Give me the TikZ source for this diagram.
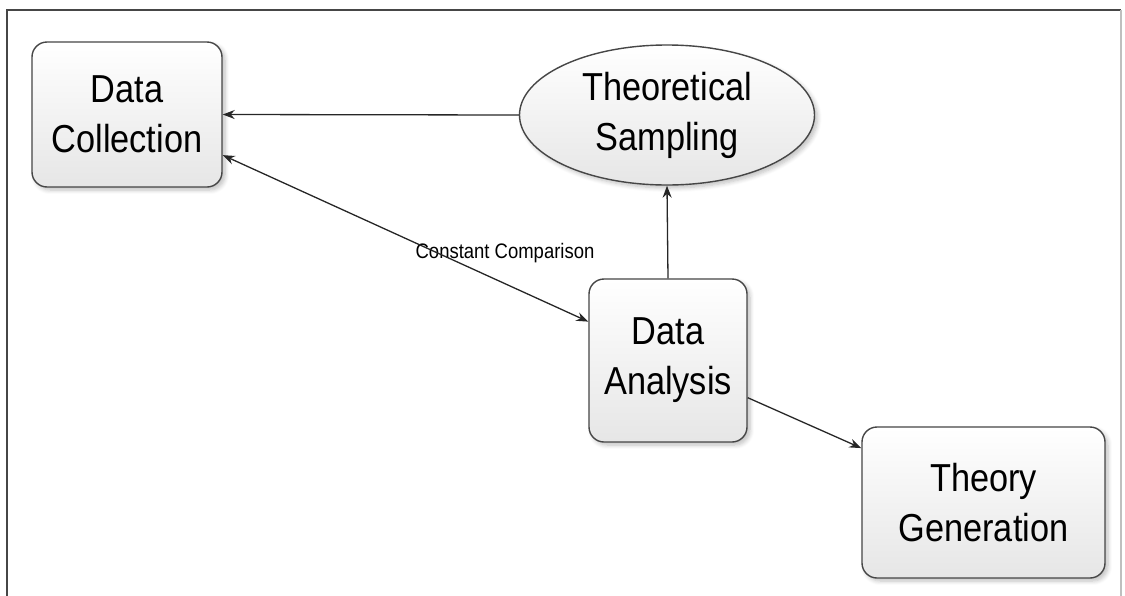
\documentclass[tikz,border=0pt]{standalone}
\usepackage{fontspec}
\setmainfont{Liberation Sans}[FakeStretch=0.88]
\usetikzlibrary{shapes.geometric,arrows.meta,shadows.blur}
\definecolor{rim}{RGB}{70,70,70}
\definecolor{shade}{RGB}{230,230,230}
\begin{document}
\begin{tikzpicture}[x=0.5pt,y=-0.5pt,
  box/.style={draw=rim,line width=0.7pt,rounded corners=7.5pt,align=center,
    top color=white,bottom color=shade,font=\fontsize{19.5}{25}\selectfont,
    blur shadow={shadow xshift=1.5pt,shadow yshift=-1.5pt,shadow opacity=25,shadow blur steps=6}},
  oval/.style={box,ellipse,rounded corners=0pt,inner sep=0pt},
  arr/.style={-{Stealth[length=6pt,width=4.5pt]},line width=0.65pt,draw=black!85}]
\useasboundingbox (0,0) rectangle (1125,595);
\draw [rim,line width=0.7pt] (7,600) -- (7,10) -- (1121,10);
\draw [black!25,line width=0.6pt] (1121,10) -- (1121,600);

\node [box,minimum width=95pt,minimum height=72.5pt] (coll) at (127,114.5) {Data\\Collection};
\node [oval,minimum width=147.5pt,minimum height=70pt] (samp) at (667,115) {Theoretical\\Sampling};
\node [box,minimum width=79pt,minimum height=81.5pt] (anal) at (668,360.5) {Data\\Analysis};
\node [box,minimum width=121.5pt,minimum height=75.5pt] (theo) at (983.5,502.5) {Theory\\Generation};
\node [font=\fontsize{10.5}{12}\selectfont] (comp) at (505,253) {Constant Comparison};

\draw [arr] (samp.west) -- (coll.east);
\draw [arr] (anal.north) -- (samp.south);
\draw [arr,{Stealth[length=6pt,width=4.5pt]}-{Stealth[length=6pt,width=4.5pt]}] (coll.-23) -- (anal.154);
\draw [arr] (anal.-25) -- (theo.156);
\end{tikzpicture}
\end{document}
